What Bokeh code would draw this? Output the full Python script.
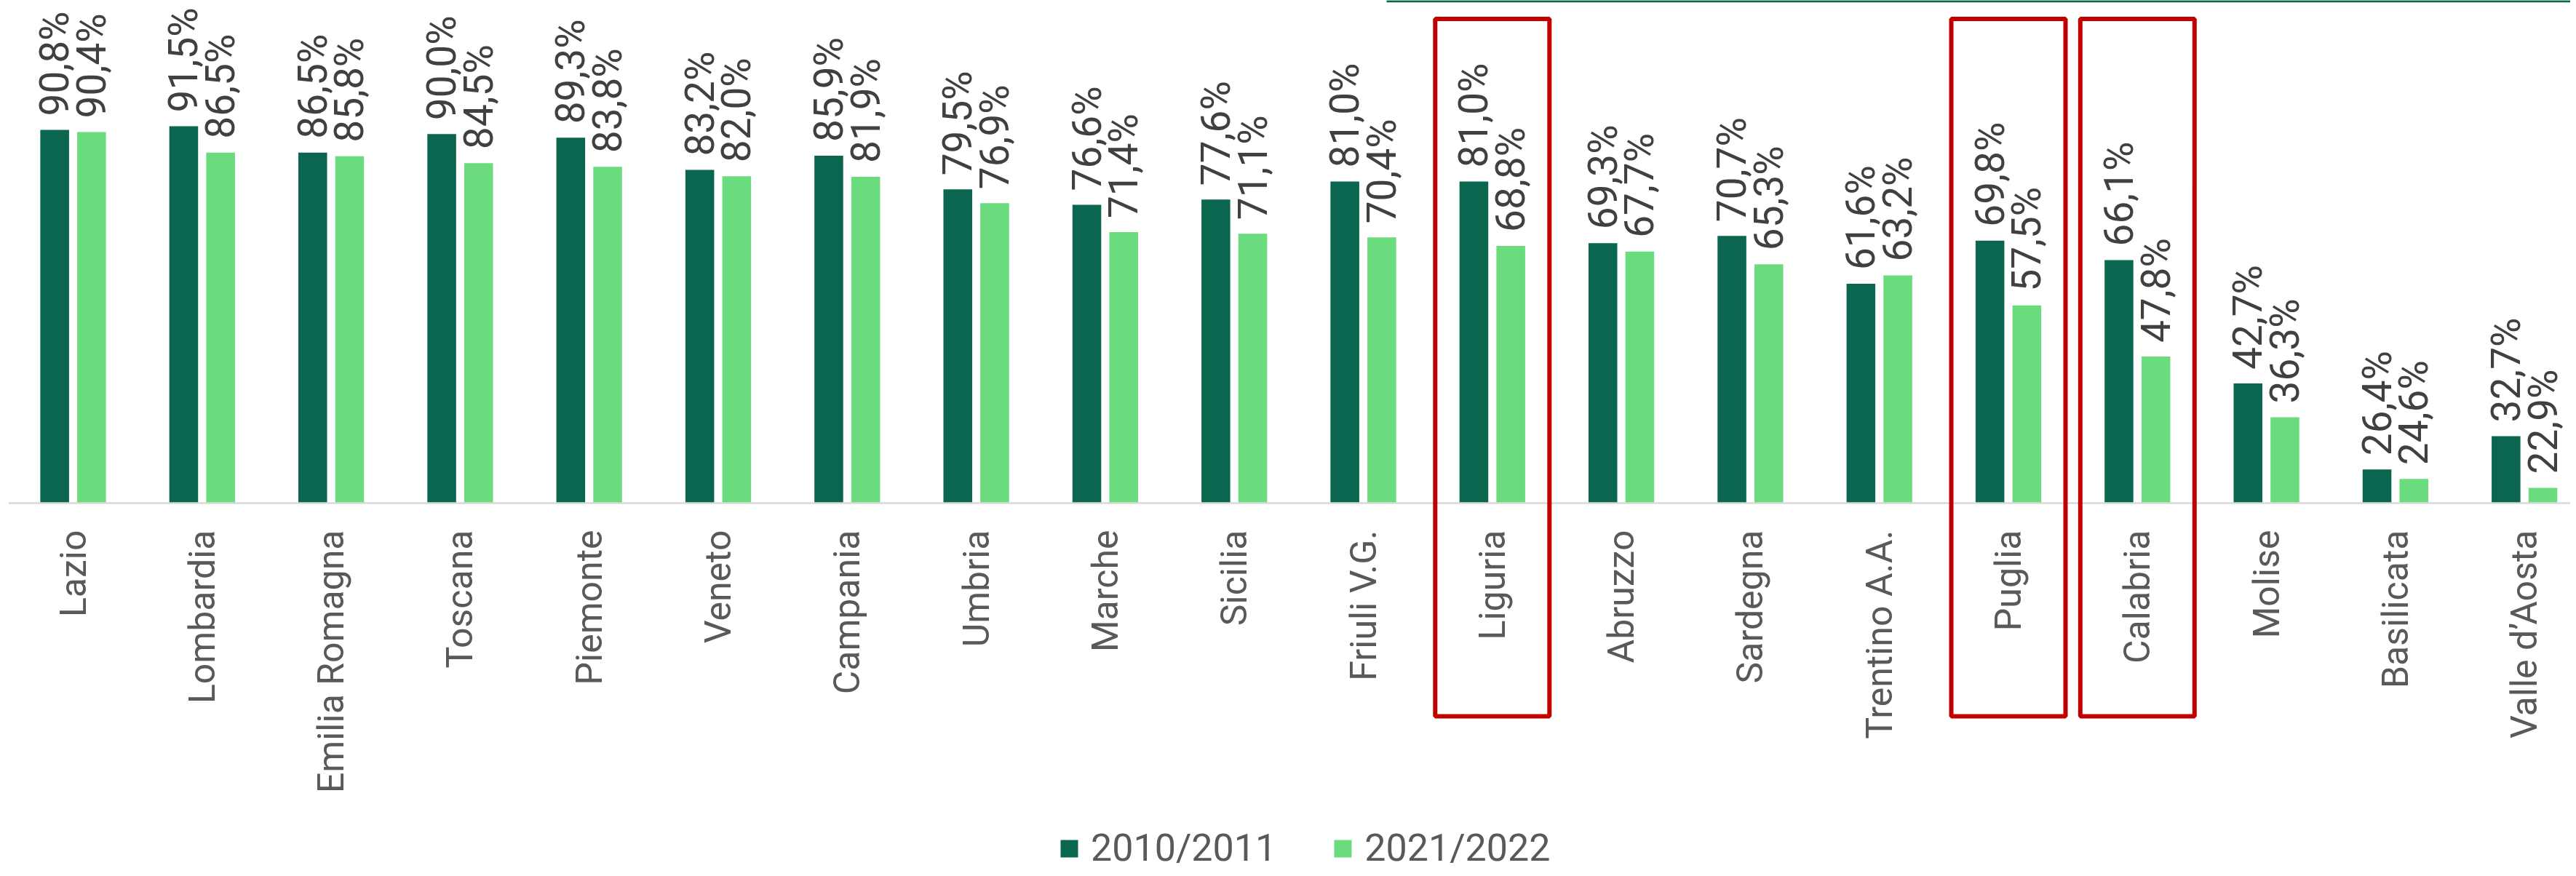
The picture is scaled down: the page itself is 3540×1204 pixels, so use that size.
import numpy as np
from bokeh.plotting import figure
from bokeh.models import Range1d, Legend, LegendItem
from bokeh.core.properties import value
from bokeh.embed import file_html
from bokeh.resources import INLINE

# ---- data ----
regions = ["Lazio", "Lombardia", "Emilia Romagna", "Toscana", "Piemonte", "Veneto",
           "Campania", "Umbria", "Marche", "Sicilia", "Friuli V.G.", "Liguria",
           "Abruzzo", "Sardegna", "Trentino A.A.", "Puglia", "Calabria", "Molise",
           "Basilicata", "Valle d\u2019Aosta"]
v2010 = [90.8, 91.5, 86.5, 90.0, 89.3, 83.2, 85.9, 79.5, 76.6, 77.6, 81.0, 81.0,
         69.3, 70.7, 61.6, 69.8, 66.1, 42.7, 26.4, 32.7]
v2021 = [90.4, 86.5, 85.8, 84.5, 83.8, 82.0, 81.9, 76.9, 71.4, 71.1, 70.4, 68.8,
         67.7, 65.3, 63.2, 57.5, 47.8, 36.3, 24.6, 22.9]
series = ["2010/2011", "2021/2022"]
highlighted = ["Liguria", "Puglia", "Calabria"]

# ---- styling / layout ----
DARK = "#0B6650"
LIGHT = "#6BDC7E"
RED = "#C00000"
W, H = 3532, 1196
PITCH = 177.3          # px per category
UNIT = 7.246           # px per percentage point
AXIS_MIN = 20.0        # value axis starts at 20%
BASE_PX = 691          # baseline, px from top of figure
FIRST_PX = 100         # centre of first category, px from left

xs = np.arange(len(regions), dtype=float)
x_start = -FIRST_PX / PITCH
x_end = x_start + W / PITCH
y_top = AXIS_MIN + BASE_PX / UNIT
y_bot = AXIS_MIN - (H - BASE_PX) / UNIT

p = figure(width=W, height=H, output_backend="svg", toolbar_location=None,
           x_range=Range1d(x_start, x_end), y_range=Range1d(y_bot, y_top),
           x_axis_location=None, y_axis_location=None, min_border=0,
           outline_line_color=None, background_fill_color="white")
p.xgrid.visible = False
p.ygrid.visible = False

OFF = 0.143
BW = 0.223
r1 = p.vbar(x=xs - OFF, top=v2010, bottom=AXIS_MIN, width=BW,
            fill_color=DARK, line_color=None)
r2 = p.vbar(x=xs + OFF, top=v2021, bottom=AXIS_MIN, width=BW,
            fill_color=LIGHT, line_color=None)

# baseline
p.segment(x0=[-0.5], y0=[AXIS_MIN], x1=[x_end], y1=[AXIS_MIN],
          line_color="#D9D9D9", line_width=2.5)

# value labels
def fmt(v):
    return f"{v:.1f}".replace(".", ",") + "%"

GAP = 19 / UNIT
p.text(x=xs - OFF, y=np.array(v2010) + GAP, text=[fmt(v) for v in v2010],
       angle=np.pi / 2, text_align="left", text_baseline="middle",
       text_font=value("Roboto"), text_font_size="55px", text_color="#404040")
p.text(x=xs + OFF, y=np.array(v2021) + GAP, text=[fmt(v) for v in v2021],
       angle=np.pi / 2, text_align="left", text_baseline="middle",
       text_font=value("Roboto"), text_font_size="55px", text_color="#404040")

# category labels
p.text(x=xs, y=[AXIS_MIN - 37 / UNIT] * len(regions), text=regions,
       angle=np.pi / 2, text_align="right", text_baseline="middle",
       text_font=value("Roboto"), text_font_size="50px", text_color="#595959")

# highlight boxes
hx = np.array([regions.index(r) for r in highlighted], dtype=float)
HALF = 78.5 / PITCH
box_top = AXIS_MIN + (BASE_PX - 25.5) / UNIT
box_bot = AXIS_MIN - (984 - BASE_PX) / UNIT
p.quad(left=hx - HALF, right=hx + HALF, top=[box_top] * len(hx),
       bottom=[box_bot] * len(hx), fill_color=None, line_color=RED, line_width=6)

# thin rule at top right
rule_x0 = x_start + 1905 / PITCH
p.segment(x0=[rule_x0], y0=[y_top - 1.2 / UNIT], x1=[x_end], y1=[y_top - 1.2 / UNIT],
          line_color=DARK, line_width=3)

legend = Legend(items=[LegendItem(label=series[0], renderers=[r1]),
                       LegendItem(label=series[1], renderers=[r2])],
                orientation="horizontal", location=(1454, 0),
                glyph_width=30, glyph_height=30, label_standoff=15, spacing=76,
                padding=0, margin=0, border_line_color=None,
                background_fill_alpha=0,
                label_text_font="Roboto", label_text_font_size="52px",
                label_text_color="#595959")
p.add_layout(legend)

open("out.html", "w").write(file_html(p, INLINE))
